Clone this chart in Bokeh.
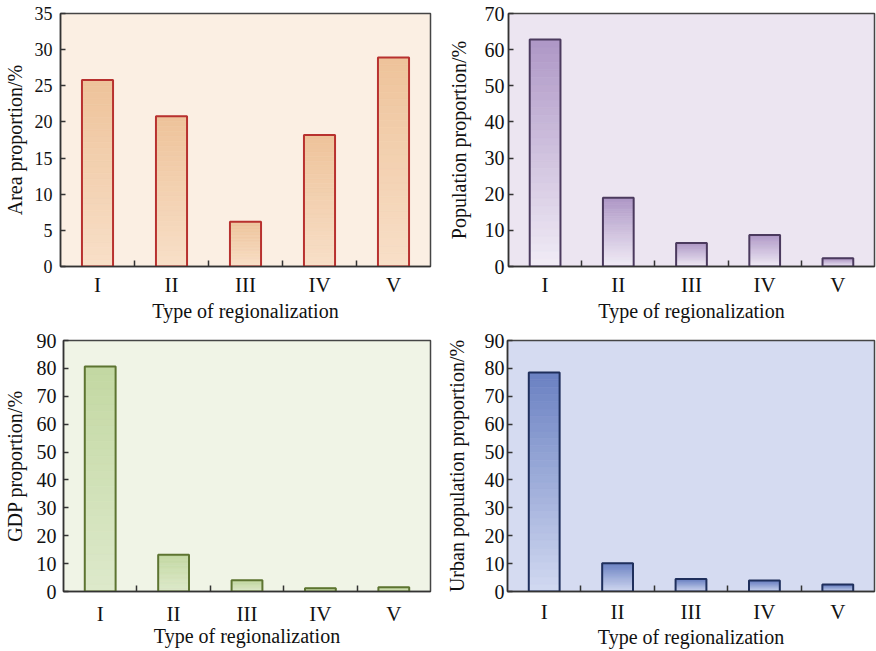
from bokeh.plotting import figure
from bokeh.layouts import column, row
from bokeh.models import Range1d, FixedTicker, SingleIntervalTicker, ColumnDataSource
from bokeh.embed import file_html
from bokeh.resources import INLINE

# ---- data ----
categories = ["I", "II", "III", "IV", "V"]
area_pct = [25.8, 20.8, 6.2, 18.2, 28.9]
population_pct = [62.8, 19.0, 6.5, 8.7, 2.3]
gdp_pct = [80.7, 13.2, 4.0, 1.2, 1.5]
urban_pct = [78.5, 10.1, 4.5, 3.9, 2.5]

FONT = "Liberation Serif"
N_STRIPS = 30


def hex2rgb(h):
    h = h.lstrip("#")
    return tuple(int(h[i:i + 2], 16) for i in (0, 2, 4))


def lerp(c1, c2, t):
    a, b = hex2rgb(c1), hex2rgb(c2)
    return "#%02x%02x%02x" % tuple(int(round(a[k] + (b[k] - a[k]) * t)) for k in range(3))


def make_panel(values, ylabel, ymax, ystep, bg, top_col, bot_col, line_col,
               width, height, mb_left, mb_right, mb_top, mb_bottom,
               ytick_font, ytick_standoff, ylabel_standoff, xtick_standoff, xlabel_standoff):
    p = figure(width=width, height=height, x_range=Range1d(0, len(categories)),
               y_range=Range1d(0, ymax), output_backend="svg", toolbar_location=None,
               min_border_left=mb_left, min_border_right=mb_right,
               min_border_top=mb_top, min_border_bottom=mb_bottom)
    p.background_fill_color = bg
    p.border_fill_color = "white"
    p.outline_line_color = "#454545"
    p.outline_line_width = 1.5
    p.xgrid.visible = False
    p.ygrid.visible = False

    xs = [i + 0.5 for i in range(len(categories))]
    # gradient strips (fractions of each bar's own value)
    sx, sb, st, sc = [], [], [], []
    for x, v in zip(xs, values):
        for k in range(N_STRIPS):
            sx.append(x)
            sb.append(v * k / N_STRIPS)
            st.append(v * (k + 1) / N_STRIPS)
            sc.append(lerp(bot_col, top_col, (k + 0.5) / N_STRIPS))
    src = ColumnDataSource(dict(x=sx, bottom=sb, top=st, color=sc))
    p.vbar(x="x", bottom="bottom", top="top", width=0.42, source=src,
           fill_color="color", line_color="color", line_width=0.6)
    p.vbar(x=xs, top=values, bottom=0, width=0.42, fill_alpha=0,
           line_color=line_col, line_width=2)

    xa = p.xaxis[0]
    xa.ticker = FixedTicker(ticks=xs, minor_ticks=list(range(1, len(categories))))
    xa.major_label_overrides = {x: c for x, c in zip(xs, categories)}
    xa.major_tick_in = 0
    xa.major_tick_out = 0
    xa.minor_tick_in = 6
    xa.minor_tick_out = 0
    xa.minor_tick_line_color = "#333333"
    xa.minor_tick_line_width = 1.5
    xa.axis_line_color = "#333333"
    xa.axis_line_width = 1.5
    xa.major_label_text_font = FONT
    xa.major_label_text_font_size = "21px"
    xa.major_label_text_color = "#111111"
    xa.major_label_standoff = xtick_standoff
    xa.axis_label = "Type of regionalization"
    xa.axis_label_text_font = FONT
    xa.axis_label_text_font_size = "20px"
    xa.axis_label_text_font_style = "normal"
    xa.axis_label_text_color = "#111111"
    xa.axis_label_standoff = xlabel_standoff

    ya = p.yaxis[0]
    ya.ticker = SingleIntervalTicker(interval=ystep, num_minor_ticks=0)
    ya.major_tick_in = 5
    ya.major_tick_out = 0
    ya.major_tick_line_color = "#333333"
    ya.major_tick_line_width = 1.5
    ya.minor_tick_line_color = None
    ya.axis_line_color = "#333333"
    ya.axis_line_width = 1.5
    ya.major_label_text_font = FONT
    ya.major_label_text_font_size = ytick_font
    ya.major_label_text_color = "#111111"
    ya.major_label_standoff = ytick_standoff
    ya.axis_label = ylabel
    ya.axis_label_text_font = FONT
    ya.axis_label_text_font_size = "20px"
    ya.axis_label_text_font_style = "normal"
    ya.axis_label_text_color = "#111111"
    ya.axis_label_standoff = ylabel_standoff
    return p


p1 = make_panel(area_pct, "Area proportion/%", 35, 5, "#fbefe3", "#eec39a", "#f8dfc8", "#b8312f",
                438, 326, 60, 8, 13, 60, "18px", 8, 6, 6, 0)
p2 = make_panel(population_pct, "Population proportion/%", 70, 10, "#ece5f1", "#ae97c6", "#f1ecf6", "#4b3a5e",
                438, 326, 70, 2, 13, 60, "20px", 4, 12, 6, 0)
p3 = make_panel(gdp_pct, "GDP proportion/%", 90, 10, "#f0f4e6", "#c3d8a2", "#dde9cb", "#5d7431",
                438, 324, 60, 8, 13, 57, "20px", 7, 8, 10, -4)
p4 = make_panel(urban_pct, "Urban population proportion/%", 90, 10, "#d5dbf1", "#6a81c2", "#d2d9f1", "#1f2f5c",
                438, 324, 69, 2, 14, 58, "20px", 3, 14, 8, -1)

layout = column(row(p1, p2), row(p3, p4))
open("out.html", "w").write(file_html(layout, INLINE))
